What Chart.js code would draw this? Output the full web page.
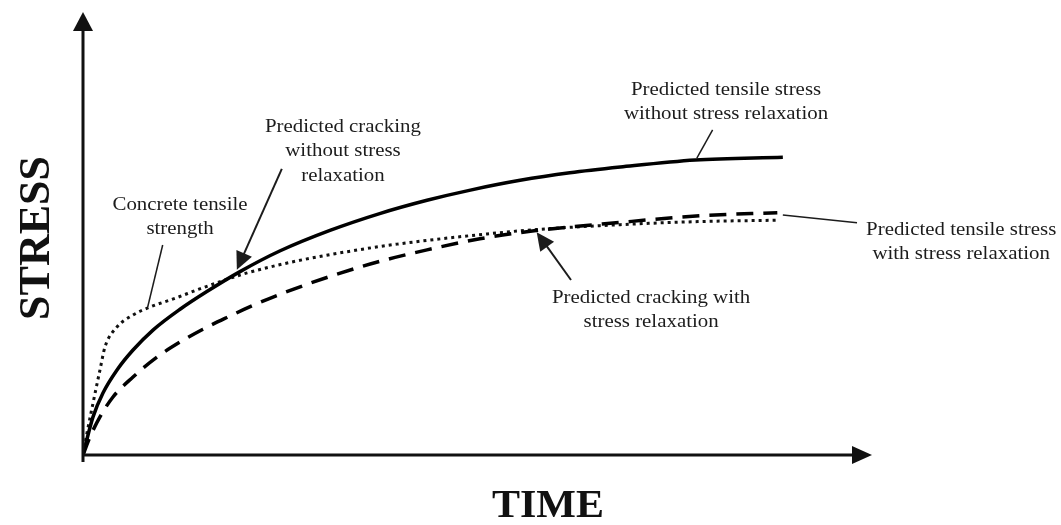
<!DOCTYPE html>
<html>
<head>
<meta charset="utf-8">
<script src="https://cdn.jsdelivr.net/npm/chart.js@4.4.1/dist/chart.umd.min.js"></script>
<style>
  html, body { margin: 0; padding: 0; background: #fff; }
  canvas { display: block; }
</style>
</head>
<body>
<canvas id="stressChart" width="1061" height="525"></canvas>
<script>
// --- dados (unidades arbitrarias, 0..100) ---
const solidTime   = [0, 0.25, 1.27, 2.53, 4.31, 6.34, 8.87, 12.3, 15.7, 19.9, 25.0, 31.3, 37.6, 43.6, 49.1, 55.4, 61.7, 68.1, 77.6, 88.7];
const solidStress = [0, 1.8, 8.6, 14.0, 19.2, 23.7, 28.2, 32.9, 36.9, 41.4, 46.1, 50.7, 54.5, 57.5, 59.8, 62.0, 63.7, 65.0, 66.6, 67.2];

const dashTime   = [0, 0.38, 0.89, 2.15, 3.8, 6.34, 9.38, 12.3, 15.2, 18.3, 21.6, 25.0, 31.3, 37.6, 43.6, 50.3, 56.7, 68.1, 78.2, 88.0];
const dashStress = [0, 1.8, 4.1, 8.6, 13.1, 17.6, 22.1, 25.5, 28.4, 31.1, 33.8, 36.3, 40.3, 43.7, 46.3, 48.8, 50.5, 52.5, 54.0, 54.7];

const dotTime   = [0, 0.51, 1.27, 2.15, 2.79, 4.31, 6.34, 8.49, 11.7, 14.8, 18.0, 20.8, 27.1, 33.5, 39.8, 51.2, 57.5, 68.1, 78.2, 88.0];
const dotStress = [0, 5.0, 11.7, 19.2, 24.4, 28.9, 31.6, 33.4, 35.4, 37.5, 39.5, 41.1, 43.8, 45.9, 47.6, 49.9, 50.9, 52.0, 52.7, 53.0];

const axisTitles = ['TIME', 'STRESS'];

// rótulos: texto, posição do texto e da seta (em unidades do gráfico)
const labelLines = [
    ['Concrete tensile', 'strength'],
    ['Predicted cracking', 'without stress', 'relaxation'],
    ['Predicted tensile stress', 'without stress relaxation'],
    ['Predicted tensile stress', 'with stress relaxation'],
    ['Predicted cracking with', 'stress relaxation']
];
const labelAt   = [[12.3, 56.4], [32.95, 74.0], [81.5, 82.4], [111.3, 50.8], [72.0, 35.4]];
const leaderFrom = [[10.1, 47.4], [25.2, 64.6], [79.8, 73.4], [88.7, 54.2], [61.85, 39.5]];
const leaderTo   = [[8.2, 33.4], [19.5, 41.8], [77.8, 67.0], [98.1, 52.4], [57.5, 50.3]];
const withHead   = [false, true, false, false, true];

function zip(xs, ys) { return xs.map((x, i) => ({ x: x, y: ys[i] })); }

function drawText(ctx, text, x, y, font, sx) {
    ctx.save();
    ctx.translate(x, y);
    ctx.scale(sx, 1);
    ctx.font = font;
    ctx.textAlign = 'center';
    ctx.textBaseline = 'middle';
    ctx.fillText(text, 0, 0);
    ctx.restore();
}

function arrowHead(ctx, x1, y1, x2, y2, len, half) {
    const a = Math.atan2(y2 - y1, x2 - x1);
    ctx.beginPath();
    ctx.moveTo(x2, y2);
    ctx.lineTo(x2 - len * Math.cos(a) + half * Math.sin(a), y2 - len * Math.sin(a) - half * Math.cos(a));
    ctx.lineTo(x2 - len * Math.cos(a) - half * Math.sin(a), y2 - len * Math.sin(a) + half * Math.cos(a));
    ctx.closePath();
    ctx.fill();
}

// eixos com setas + anotações
const sketchPlugin = {
    id: 'sketch',
    afterDatasetsDraw(chart) {
        const ctx = chart.ctx;
        const a = chart.chartArea;
        const xs = chart.scales.x, ys = chart.scales.y;
        ctx.save();
        ctx.strokeStyle = '#111';
        ctx.fillStyle = '#111';
        ctx.lineWidth = 3;
        ctx.setLineDash([]);
        // eixo Y
        ctx.beginPath();
        ctx.moveTo(a.left, a.bottom + 7);
        ctx.lineTo(a.left, a.top + 16);
        ctx.stroke();
        arrowHead(ctx, a.left, a.bottom, a.left, a.top, 19, 10);
        // eixo X
        ctx.beginPath();
        ctx.moveTo(a.left - 1, a.bottom);
        ctx.lineTo(a.right - 16, a.bottom);
        ctx.stroke();
        arrowHead(ctx, a.left, a.bottom, a.right, a.bottom, 20, 9);

        // títulos dos eixos
        ctx.fillStyle = '#111';
        drawText(ctx, axisTitles[0], 548, 507, 'bold 40px "Liberation Serif"', 1.05);
        ctx.save();
        ctx.translate(38, 238);
        ctx.rotate(-Math.PI / 2);
        drawText(ctx, axisTitles[1], 0, 0, 'bold 44px "Liberation Serif"', 1.0);
        ctx.restore();

        // anotações
        ctx.fillStyle = '#1c1c1c';
        ctx.strokeStyle = '#1c1c1c';
        labelLines.forEach((lines, i) => {
            const cx = xs.getPixelForValue(labelAt[i][0]);
            const cy = ys.getPixelForValue(labelAt[i][1]);
            lines.forEach((t, k) => drawText(ctx, t, cx, cy + k * 24.5, '18px "Liberation Serif"', 1.16));
            const x1 = xs.getPixelForValue(leaderFrom[i][0]), y1 = ys.getPixelForValue(leaderFrom[i][1]);
            const x2 = xs.getPixelForValue(leaderTo[i][0]), y2 = ys.getPixelForValue(leaderTo[i][1]);
            ctx.lineWidth = withHead[i] ? 2 : 1.5;
            ctx.beginPath();
            ctx.moveTo(x1, y1);
            ctx.lineTo(withHead[i] ? x2 + (x1 - x2) * 0.12 : x2, withHead[i] ? y2 + (y1 - y2) * 0.12 : y2);
            ctx.stroke();
            if (withHead[i]) arrowHead(ctx, x1, y1, x2, y2, 18, 8.5);
        });
        ctx.restore();
    }
};

const ctx = document.getElementById('stressChart').getContext('2d');
new Chart(ctx, {
    type: 'line',
    data: {
        datasets: [
            { label: 'without relaxation', data: zip(solidTime, solidStress), borderColor: '#000', borderWidth: 3.5 },
            { label: 'with relaxation', data: zip(dashTime, dashStress), borderColor: '#000', borderWidth: 3.5, borderDash: [17, 10] },
            { label: 'tensile strength', data: zip(dotTime, dotStress), borderColor: '#111', borderWidth: 3, borderDash: [3, 4] }
        ]
    },
    options: {
        responsive: false,
        animation: false,
        devicePixelRatio: 1,
        layout: { padding: { left: 83, right: 189, top: 12, bottom: 70 } },
        elements: { point: { radius: 0 }, line: { cubicInterpolationMode: 'monotone', fill: false } },
        plugins: { legend: { display: false }, tooltip: { enabled: false } },
        scales: {
            x: { type: 'linear', min: 0, max: 100, display: false },
            y: { type: 'linear', min: 0, max: 100, display: false }
        }
    },
    plugins: [sketchPlugin]
});
</script>
</body>
</html>
